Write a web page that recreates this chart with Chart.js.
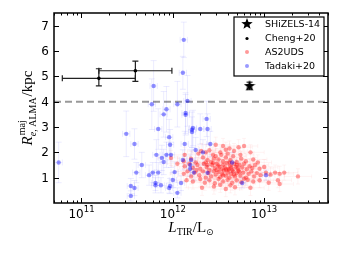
<!DOCTYPE html>
<html>
<head>
<meta charset="utf-8">
<script src="https://cdn.jsdelivr.net/npm/chart.js@4.4.1/dist/chart.umd.min.js"></script>
<style>
  html, body { margin: 0; padding: 0; background: #fff; }
  #c { display: block; }
</style>
</head>
<body>
<canvas id="c" width="340" height="259"></canvas>
<script>
// ---- data (x read as log10 L_TIR, y in kpc) ----
const shizelsLogL = [12.84];
const shizelsR = [4.62];
const shizelsRErr = [0.15];

const chengLogL = [11.19, 11.59];
const chengR = [4.92, 5.22];
const chengRLo = [0.30, 0.42];
const chengRHi = [0.38, 0.38];
const chengLogLErr = [0.40, 0.40];

const tadakiLogL = [10.75, 11.49, 11.58, 11.66, 11.60, 11.54, 11.58, 11.54, 11.74, 11.78,
  11.84, 11.81, 11.81, 11.87, 11.82, 11.88, 11.90, 11.84, 11.90, 11.93,
  11.77, 11.79, 11.96, 11.97, 11.93, 11.98, 12.02, 12.00, 11.97, 11.96,
  12.09, 12.05, 12.12, 12.11, 12.05, 12.16, 12.14, 12.14, 12.21, 12.22,
  12.21, 12.30, 12.38, 12.37, 12.13, 12.41, 12.25, 12.33, 12.11, 12.20,
  12.19, 12.19, 12.23, 12.38, 12.65, 12.76, 13.02];
const tadakiR = [1.6, 2.73, 2.33, 1.5, 1.2, 0.67, 0.59, 0.28, 1.1, 1.2,
  1.2, 0.79, 0.7, 0.7, 1.9, 1.78, 1.62, 2.92, 3.5, 3.7,
  3.9, 4.62, 2.6, 2.3, 1.9, 1.9, 1.22, 0.91, 0.67, 0.59,
  0.79, 0.4, 6.44, 5.14, 3.9, 4.03, 3.55, 3.48, 2.89, 2.96,
  2.8, 2.92, 2.92, 3.32, 2.33, 2.33, 2.09, 2.0, 1.7, 1.7,
  1.5, 1.35, 1.2, 1.19, 1.6, 0.79, 1.1];
const tadakiRErr = [0.8, 0.9, 0.6, 0.5, 0.4, 0.3, 0.3, 0.2, 0.4, 0.4,
  0.4, 0.3, 0.3, 0.3, 0.6, 0.5, 0.5, 0.8, 0.9, 0.9,
  1.0, 1.0, 0.7, 0.6, 0.5, 0.5, 0.4, 0.3, 0.3, 0.2,
  0.3, 0.2, 0.7, 0.65, 0.9, 1.0, 0.8, 0.8, 0.7, 0.7,
  0.6, 0.6, 0.6, 0.7, 0.5, 0.5, 0.5, 0.5, 0.4, 0.4,
  0.4, 0.3, 0.3, 0.3, 0.4, 0.2, 0.2];
const tadakiLogLErr = 0.04;

const as2udsLogL = [
  12.47, 12.55, 12.72, 12.78, 12.62, 12.31,
  12.28, 12.36, 12.44, 12.52, 12.60, 12.67, 12.74, 12.85, 12.58, 12.40,
  12.12, 12.20, 12.25, 12.33, 12.38, 12.42, 12.47, 12.50, 12.55, 12.58, 12.63, 12.66, 12.70, 12.75, 12.80, 12.88, 12.93, 12.45, 12.53, 12.62, 12.36,
  12.13, 12.18, 12.22, 12.27, 12.30, 12.34, 12.37, 12.40, 12.43, 12.46, 12.48, 12.51, 12.53, 12.55, 12.57, 12.59, 12.61, 12.63, 12.65, 12.67, 12.69, 12.71, 12.73, 12.76, 12.78, 12.81, 12.84, 12.87, 12.90, 12.95, 13.00, 12.50, 12.44, 12.58, 12.64, 12.70, 12.38, 12.26,
  12.12, 12.16, 12.20, 12.24, 12.29, 12.33, 12.36, 12.39, 12.42, 12.45, 12.47, 12.50, 12.52, 12.54, 12.56, 12.58, 12.60, 12.62, 12.64, 12.66, 12.68, 12.70, 12.72, 12.74, 12.77, 12.80, 12.83, 12.86, 12.89, 12.92, 12.96, 13.02, 13.07, 13.12, 13.17, 13.22, 13.37, 12.48, 12.55, 12.61, 12.67, 12.73,
  12.15, 12.22, 12.30, 12.35, 12.40, 12.46, 12.50, 12.55, 12.60, 12.65, 12.70, 12.75, 12.82, 12.88, 12.95, 13.05, 13.15, 12.52, 12.63, 12.78,
  12.32, 12.45, 12.58, 12.68, 12.85, 13.17,
  11.98, 12.05, 12.13];
const as2udsR = [
  2.3, 2.25, 2.2, 2.25, 2.15, 2.05,
  1.95, 2.0, 1.9, 2.0, 1.95, 2.05, 1.9, 2.0, 2.1, 2.08,
  1.65, 1.75, 1.6, 1.8, 1.7, 1.62, 1.85, 1.72, 1.65, 1.8, 1.7, 1.85, 1.62, 1.75, 1.65, 1.72, 1.6, 1.75, 1.9, 1.6, 1.6,
  1.45, 1.55, 1.38, 1.5, 1.35, 1.55, 1.42, 1.3, 1.5, 1.38, 1.55, 1.42, 1.32, 1.5, 1.4, 1.58, 1.35, 1.48, 1.3, 1.55, 1.42, 1.35, 1.5, 1.4, 1.55, 1.33, 1.45, 1.38, 1.5, 1.35, 1.42, 1.48, 1.58, 1.32, 1.4, 1.5, 1.5, 1.3,
  1.15, 1.25, 1.05, 1.2, 1.1, 1.25, 1.0, 1.18, 1.05, 1.25, 1.12, 1.22, 1.02, 1.15, 1.28, 1.08, 1.2, 1.0, 1.15, 1.25, 1.05, 1.18, 1.28, 1.08, 1.2, 1.0, 1.15, 1.25, 1.05, 1.18, 1.1, 1.2, 1.12, 1.2, 1.15, 1.2, 1.05, 1.3, 1.1, 1.3, 1.12, 1.22,
  0.9, 0.85, 0.95, 0.8, 0.9, 0.78, 0.95, 0.85, 0.92, 0.8, 0.9, 0.82, 0.92, 0.85, 0.9, 0.8, 0.9, 0.72, 0.7, 0.96,
  0.6, 0.65, 0.55, 0.62, 0.6, 0.75,
  1.78, 1.55, 1.9];
const as2udsLogLErr = 0.15;
const as2udsRErr = 0.3;

const yTicks = [1, 2, 3, 4, 5, 6, 7];
const xTickExps = [11, 12, 13];
const compactLimit = 4;

// ---- helpers ----
const pts = (lx, ys) => lx.map((l, i) => ({ x: Math.pow(10, l), y: ys[i] }));
const pick = (v, i) => Array.isArray(v) ? v[i] : v;

function makeStar(size) {
  const c = document.createElement('canvas');
  c.width = size; c.height = size;
  const g = c.getContext('2d');
  const r = size / 2, ri = r * 0.42;
  g.beginPath();
  for (let k = 0; k < 10; k++) {
    const a = -Math.PI / 2 + k * Math.PI / 5;
    const rr = k % 2 ? ri : r;
    g.lineTo(r + rr * Math.cos(a), r + rr * Math.sin(a));
  }
  g.closePath();
  g.fillStyle = '#000';
  g.fill();
  return c;
}
const starImg = makeStar(12);

const errPlugin = {
  id: 'errPlugin',
  beforeDatasetsDraw(chart) {
    const { ctx, chartArea: a, scales: { x, y } } = chart;
    ctx.save();
    ctx.beginPath();
    ctx.rect(a.left, a.top, a.right - a.left, a.bottom - a.top);
    ctx.clip();

    // dashed reference line
    const yy = y.getPixelForValue(compactLimit);
    ctx.strokeStyle = '#999';
    ctx.lineWidth = 2;
    ctx.setLineDash([7, 4]);
    ctx.beginPath();
    ctx.moveTo(a.left, yy); ctx.lineTo(a.right, yy);
    ctx.stroke();
    ctx.setLineDash([]);

    for (let d = chart.data.datasets.length - 1; d >= 0; d--) {
      const ds = chart.data.datasets[d];
      const e = ds.err;
      if (!e) continue;
      ctx.strokeStyle = e.color;
      ctx.lineWidth = e.width;
      const cap = e.cap;
      ds.data.forEach((p, i) => {
        const px = x.getPixelForValue(p.x), py = y.getPixelForValue(p.y);
        ctx.beginPath();
        if (e.yLo !== undefined) {
          const t = y.getPixelForValue(p.y + pick(e.yHi, i));
          const b = y.getPixelForValue(p.y - pick(e.yLo, i));
          ctx.moveTo(px, t); ctx.lineTo(px, b);
          if (cap) {
            ctx.moveTo(px - cap, t); ctx.lineTo(px + cap, t);
            ctx.moveTo(px - cap, b); ctx.lineTo(px + cap, b);
          }
        }
        if (e.xLo !== undefined) {
          const l = x.getPixelForValue(p.x / Math.pow(10, pick(e.xLo, i)));
          const r = x.getPixelForValue(p.x * Math.pow(10, pick(e.xHi, i)));
          ctx.moveTo(l, py); ctx.lineTo(r, py);
          if (cap) {
            ctx.moveTo(l, py - cap); ctx.lineTo(l, py + cap);
            ctx.moveTo(r, py - cap); ctx.lineTo(r, py + cap);
          }
        }
        ctx.stroke();
      });
    }
    ctx.restore();
  },
  afterDraw(chart) {
    const { ctx, chartArea: a, scales: { x, y } } = chart;
    ctx.save();
    ctx.strokeStyle = '#000';
    ctx.fillStyle = '#000';

    // ticks on all four sides, pointing in
    ctx.lineWidth = 1;
    ctx.beginPath();
    yTicks.forEach(v => {
      const py = Math.round(y.getPixelForValue(v)) + 0.5;
      ctx.moveTo(a.left, py); ctx.lineTo(a.left + 5, py);
      ctx.moveTo(a.right, py); ctx.lineTo(a.right - 5, py);
    });
    for (let e = 10; e <= 13; e++) {
      for (let m = 1; m <= 9; m++) {
        const v = m * Math.pow(10, e);
        if (v < x.min || v > x.max) continue;
        const px = Math.round(x.getPixelForValue(v)) + 0.5;
        const len = m === 1 ? 5 : 2.5;
        ctx.moveTo(px, a.bottom); ctx.lineTo(px, a.bottom - len);
        ctx.moveTo(px, a.top); ctx.lineTo(px, a.top + len);
      }
    }
    ctx.stroke();

    // frame
    ctx.lineWidth = 1.5;
    ctx.strokeRect(a.left, a.top, a.right - a.left, a.bottom - a.top);

    // y tick labels
    ctx.font = '12px "DejaVu Sans"';
    ctx.textAlign = 'right';
    ctx.textBaseline = 'middle';
    yTicks.forEach(v => ctx.fillText(String(v), a.left - 5, y.getPixelForValue(v) + 1));

    // x tick labels 10^n
    ctx.textAlign = 'left';
    ctx.textBaseline = 'alphabetic';
    xTickExps.forEach(n => {
      const px = x.getPixelForValue(Math.pow(10, n));
      ctx.font = '12px "DejaVu Sans"';
      const w1 = ctx.measureText('10').width;
      ctx.font = '8.5px "DejaVu Sans"';
      const w2 = ctx.measureText(String(n)).width;
      const x0 = px - (w1 + w2) / 2;
      ctx.font = '12px "DejaVu Sans"';
      ctx.fillText('10', x0, a.bottom + 15);
      ctx.font = '8.5px "DejaVu Sans"';
      ctx.fillText(String(n), x0 + w1, a.bottom + 9);
    });

    // x axis label: L_TIR / L_sun
    const it = 'italic 15px "Liberation Serif"', rm = '15px "Liberation Serif"', sm = '10px "Liberation Serif"';
    const xParts = [
      { t: 'L', f: it, dy: 0 }, { t: 'TIR', f: sm, dy: 3 },
      { t: '/L', f: rm, dy: 0 }, { t: '\u2299', f: '9px "DejaVu Sans"', dy: 3 }
    ];
    let tw = 0;
    xParts.forEach(p => { ctx.font = p.f; p.w = ctx.measureText(p.t).width; tw += p.w; });
    let cx = (a.left + a.right) / 2 - tw / 2;
    xParts.forEach(p => { ctx.font = p.f; ctx.fillText(p.t, cx, 232 + p.dy); cx += p.w; });

    // y axis label: R^maj_{e,ALMA} / kpc
    ctx.save();
    ctx.translate(32, (a.top + a.bottom) / 2);
    ctx.rotate(-Math.PI / 2);
    ctx.font = it; const wR = ctx.measureText('R').width;
    ctx.font = 'italic 10px "Liberation Serif"'; const wE = ctx.measureText('e').width;
    ctx.font = sm; const wA = ctx.measureText(', ALMA').width; const wM = ctx.measureText('maj').width;
    ctx.font = rm; const wK = ctx.measureText('/kpc').width;
    const wSub = Math.max(wE + wA, wM);
    let sx = -(wR + wSub + 1 + wK) / 2;
    ctx.font = it; ctx.fillText('R', sx, 0); sx += wR;
    ctx.font = 'italic 10px "Liberation Serif"'; ctx.fillText('e', sx, 4);
    ctx.font = sm; ctx.fillText(', ALMA', sx + wE, 4);
    ctx.fillText('maj', sx + 1, -7);
    sx += wSub + 1;
    ctx.font = rm; ctx.fillText('/kpc', sx, 0);
    ctx.restore();

    // legend
    const lx = 234, ly = 17, lw = 90, lh = 59;
    ctx.fillStyle = '#fff';
    ctx.fillRect(lx, ly, lw, lh);
    ctx.lineWidth = 1.2;
    ctx.strokeStyle = '#000';
    ctx.strokeRect(lx, ly, lw, lh);
    const rows = [
      { label: 'SHiZELS-14', y: 24, kind: 'star' },
      { label: 'Cheng+20', y: 38.5, kind: 'dot', c: '#000', r: 1.6 },
      { label: 'AS2UDS', y: 52, kind: 'dot', c: 'rgba(255,0,0,0.4)', r: 2 },
      { label: 'Tadaki+20', y: 66, kind: 'dot', c: 'rgba(0,0,255,0.4)', r: 2 }
    ];
    ctx.font = '9.5px "DejaVu Sans"';
    ctx.textAlign = 'left';
    ctx.textBaseline = 'middle';
    rows.forEach(rw => {
      if (rw.kind === 'star') {
        ctx.drawImage(starImg, 247 - 6, rw.y - 6);
      } else {
        ctx.fillStyle = rw.c;
        ctx.beginPath(); ctx.arc(247, rw.y, rw.r, 0, Math.PI * 2); ctx.fill();
      }
      ctx.fillStyle = '#000';
      ctx.fillText(rw.label, 265, rw.y + 0.5);
    });
    ctx.restore();
  }
};

new Chart(document.getElementById('c'), {
  type: 'scatter',
  data: {
    datasets: [
      {
        label: 'SHiZELS-14',
        data: pts(shizelsLogL, shizelsR),
        pointStyle: starImg,
        pointRadius: 6,
        err: { yLo: shizelsRErr, yHi: shizelsRErr, color: '#000', width: 1, cap: 3 }
      },
      {
        label: 'Cheng+20',
        data: pts(chengLogL, chengR),
        pointRadius: 1.8,
        borderWidth: 0,
        backgroundColor: '#000',
        err: { yLo: chengRLo, yHi: chengRHi, xLo: chengLogLErr, xHi: chengLogLErr, color: '#222', width: 1.2, cap: 3 }
      },
      {
        label: 'Tadaki+20',
        data: pts(tadakiLogL, tadakiR),
        pointRadius: 2.2,
        borderWidth: 0,
        backgroundColor: 'rgba(0,0,255,0.42)',
        err: { yLo: tadakiRErr, yHi: tadakiRErr, xLo: tadakiLogLErr, xHi: tadakiLogLErr, color: 'rgba(0,0,255,0.08)', width: 1, cap: 3 }
      },
      {
        label: 'AS2UDS',
        data: pts(as2udsLogL, as2udsR),
        pointRadius: 2.2,
        borderWidth: 0,
        backgroundColor: 'rgba(255,0,0,0.38)',
        err: { yLo: as2udsRErr, yHi: as2udsRErr, xLo: as2udsLogLErr, xHi: as2udsLogLErr, color: 'rgba(255,0,0,0.05)', width: 1, cap: 2 }
      }
    ]
  },
  options: {
    responsive: false,
    animation: false,
    devicePixelRatio: 1,
    layout: { padding: { left: 54, right: 12, top: 13, bottom: 56 } },
    plugins: { legend: { display: false }, tooltip: { enabled: false } },
    scales: {
      x: { type: 'logarithmic', min: 5e10, max: 5e13, display: false },
      y: { type: 'linear', min: 0, max: 7.5, display: false }
    }
  },
  plugins: [errPlugin]
});
</script>
</body>
</html>
